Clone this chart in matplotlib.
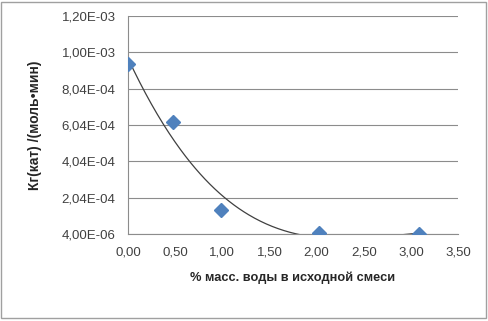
import numpy as np
import matplotlib
matplotlib.use("Agg")
import matplotlib.pyplot as plt
from matplotlib.patches import Rectangle
from matplotlib.ticker import FuncFormatter

water = [0.0, 0.48, 0.99, 2.03, 3.09]
rate = [9.4e-4, 6.19e-4, 1.35e-4, 1.1e-5, 4.0e-6]
yticks = [4.0e-6, 2.04e-4, 4.04e-4, 6.04e-4, 8.04e-4, 1.004e-3, 1.204e-3]
xticks = [0.0, 0.5, 1.0, 1.5, 2.0, 2.5, 3.0, 3.5]

plt.rcParams['font.family'] = ['Liberation Sans', 'DejaVu Sans']

fig = plt.figure(figsize=(4.88, 3.21), dpi=100)
ax = fig.add_axes([128/488, 1-234/321, 330/488, 218/321])

coef = np.polyfit(water, rate, 3)
xs = np.linspace(min(water), max(water), 300)
ax.plot(xs, np.polyval(coef, xs), color='#404040', lw=0.9, zorder=2)
ax.plot(water, rate, linestyle='none', marker='D', markersize=7,
        color='#4F81BD', markeredgecolor='#4F81BD', zorder=3)

ax.set_xlim(0, 3.5)
ax.set_ylim(yticks[0], yticks[-1])
ax.set_xticks(xticks)
ax.set_yticks(yticks)
ax.xaxis.set_major_formatter(FuncFormatter(lambda v, p: f"{v:.2f}".replace('.', ',')))
ax.yaxis.set_major_formatter(FuncFormatter(lambda v, p: f"{v:.2E}".replace('.', ',')))
ax.grid(axis='y', color='#8c8c8c', lw=0.8)
ax.set_axisbelow(True)
for s in ['top', 'right']:
    ax.spines[s].set_visible(False)
for s in ['left', 'bottom']:
    ax.spines[s].set_color('#8c8c8c')
    ax.spines[s].set_linewidth(0.8)
ax.tick_params(length=0, labelsize=9.5, colors='#404040', pad=9)
ax.set_xlabel('% масс. воды в исходной смеси', fontsize=9.2, fontweight='bold',
              color='#262626', labelpad=9)
ax.set_ylabel('Кг(кат) /(моль•мин)', fontsize=10, fontweight='bold',
              color='#262626', labelpad=14)

fig.patches.append(Rectangle((1/488, 3/321), 485/488, 316/321, transform=fig.transFigure,
                             fill=False, edgecolor='#a0a0a0', lw=1))
fig.savefig('out.png', dpi=100)
